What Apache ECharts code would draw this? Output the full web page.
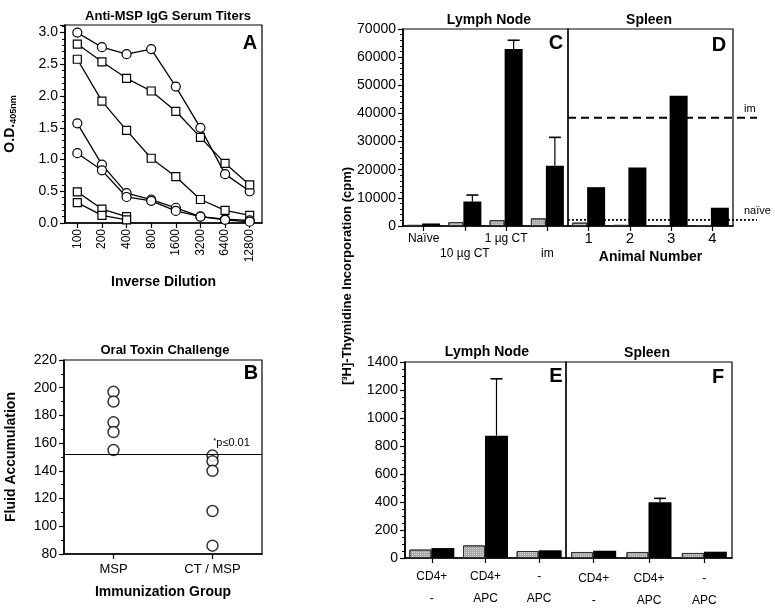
<!DOCTYPE html>
<html>
<head>
<meta charset="utf-8">
<script src="https://cdn.jsdelivr.net/npm/echarts@6/dist/echarts.min.js"></script>
<style>
html, body { margin: 0; padding: 0; background: #fff; }
#chart { width: 775px; height: 608px; }
</style>
</head>
<body>
<div id="chart"></div>
<script>
// A: anti-MSP IgG serum titers
const dilutions = ['100', '200', '400', '800', '1600', '3200', '6400', '12800']
const odCircle1 = [3.0, 2.77, 2.66, 2.74, 2.15, 1.5, 0.77, 0.5]
const odSquare1 = [2.82, 2.54, 2.28, 2.08, 1.76, 1.35, 0.94, 0.6]
const odSquare2 = [2.58, 1.92, 1.46, 1.02, 0.73, 0.37, 0.2, 0.12]
const odCircle2 = [1.57, 0.92, 0.47, 0.37, 0.24, 0.1, 0.06, 0.04]
const odCircle3 = [1.1, 0.83, 0.41, 0.35, 0.19, 0.1, 0.05, 0.02]
const odSquare3 = [0.49, 0.22, 0.1]
const odSquare4 = [0.32, 0.12, 0.05]

// B: oral toxin challenge
const groupsB = ['MSP', 'CT / MSP']
const fluidMSP = [197, 190, 175, 168, 155]
const fluidCTMSP = [151, 147, 140, 111, 86]
const pLine = 152

// C / D: thymidine incorporation (cpm)
const groupsC = ['Naïve', '10 µg CT', '1 µg CT', 'im']
const greyC = [400, 1400, 2100, 2700]
const blackC = [900, 8700, 62900, 21400]
const errC = [null, 11000, 66000, 31500]
const animalsD = ['1', '2', '3', '4']
const greyD = [1200, 400, 300, 250]
const blackD = [13800, 20800, 46300, 6500]
const refD = [38500, 2200]
const refLabelsD = ['im', 'naïve']

// E / F
const groupsEF = ['CD4+\n-', 'CD4+\nAPC', '-\nAPC']
const greyE = [60, 90, 50]
const blackE = [71, 874, 55]
const errE = [null, 1280, null]
const greyF = [43, 43, 36]
const blackF = [52, 398, 45]
const errF = [null, 426, null]

const FONT = 'Liberation Sans, Arial, Helvetica, sans-serif'
const GREY_W = 15, BLACK_W = 18
const GREY_W2 = 22, BLACK_W2 = 23

const chart = echarts.init(document.getElementById('chart'))

function grid (left, top, width, height) {
  return { left, top, width, height, show: true, borderColor: '#000', borderWidth: 1.2,
    backgroundColor: 'transparent', outerBoundsMode: 'none', containLabel: false }
}

const axisLine = { show: true, lineStyle: { color: '#000', width: 1.6 } }
const txt = (size, weight) => ({ color: '#000', fontFamily: FONT, fontSize: size, fontWeight: weight || 'normal' })

function catAxis (gi, data, extra) {
  return Object.assign({
    type: 'category', gridIndex: gi, data, boundaryGap: true,
    axisLine, axisTick: { show: true, alignWithLabel: true, interval: 0, length: 5, lineStyle: { color: '#000', width: 1.2 } },
    axisLabel: Object.assign({ margin: 6, interval: 0 }, txt(12)),
    splitLine: { show: false }
  }, extra || {})
}

function valAxis (gi, min, max, interval, extra) {
  return Object.assign({
    type: 'value', gridIndex: gi, min, max, interval,
    axisLine, axisTick: { show: true, length: 5, lineStyle: { color: '#000', width: 1.2 } },
    minorTick: { show: true, splitNumber: 5, length: 3, lineStyle: { color: '#000', width: 1 } },
    axisLabel: Object.assign({ margin: 7, formatter: v => String(v) }, txt(14)),
    splitLine: { show: false }
  }, extra || {})
}

function lineSeries (data, symbol) {
  return {
    type: 'line', xAxisIndex: 0, yAxisIndex: 0, data,
    symbol, symbolSize: symbol === 'circle' ? 9 : 8,
    itemStyle: { color: '#fff', borderColor: '#000', borderWidth: 1.2 },
    lineStyle: { color: '#000', width: 1.3 },
    z: 3
  }
}

function barPair (ai, grey, black, gw, bw) {
  return [
    { type: 'bar', xAxisIndex: ai, yAxisIndex: ai, data: grey, barWidth: gw, barGap: '0%',
      itemStyle: { color: '#a9a9a9', borderColor: '#333', borderWidth: 1,
        decal: { symbol: 'rect', symbolSize: 1, color: 'rgba(255,255,255,0.45)', dashArrayX: [1, 1], dashArrayY: [1, 1] } } },
    { type: 'bar', xAxisIndex: ai, yAxisIndex: ai, data: black, barWidth: bw, barGap: '0%',
      itemStyle: { color: '#000' } }
  ]
}

function errorBars (ai, errs, black, offset) {
  const data = []
  errs.forEach((e, i) => { if (e != null) data.push([i, e, black[i]]) })
  return {
    type: 'custom', xAxisIndex: ai, yAxisIndex: ai, data, z: 5,
    renderItem: (params, api) => {
      const top = api.coord([api.value(0), api.value(1)])
      const base = api.coord([api.value(0), api.value(2)])
      const x = top[0] + offset
      return { type: 'group', children: [
        { type: 'line', shape: { x1: x, y1: base[1], x2: x, y2: top[1] }, style: { stroke: '#000', lineWidth: 1.2 } },
        { type: 'line', shape: { x1: x - 6, y1: top[1], x2: x + 6, y2: top[1] }, style: { stroke: '#000', lineWidth: 1.6 } }
      ] }
    }
  }
}

const refLines = {
  type: 'custom', xAxisIndex: 3, yAxisIndex: 3, clip: false, z: 4,
  data: refD.map((v, i) => [0, v, i]),
  renderItem: (params, api) => {
    const cs = params.coordSys
    const y = api.coord([0, api.value(1)])[1]
    const i = api.value(2)
    const x2 = cs.x + cs.width + 24
    return { type: 'group', children: [
      { type: 'line', shape: { x1: cs.x, y1: y, x2, y2: y },
        style: { stroke: '#000', lineWidth: i === 0 ? 2 : 1.8, lineDash: i === 0 ? [8, 5] : [2, 2] } },
      { type: 'text', x: x2 - 13, y: y - 3,
        style: { text: refLabelsD[i], font: '11px ' + FONT, fill: '#000', textAlign: 'left', textVerticalAlign: 'bottom' } }
    ] }
  }
}

function label (text, x, y, font, rotation) {
  return { type: 'text', x, y, rotation: rotation || 0,
    style: { text, font, fill: '#000', textAlign: 'center', textVerticalAlign: 'middle' } }
}

const option = {
  animation: false,
  backgroundColor: '#fff',
  textStyle: { fontFamily: FONT },
  grid: [
    grid(65, 25, 197, 198), // A
    grid(64, 360, 198, 194), // B
    grid(403, 29, 165, 197), // C
    grid(568, 29, 165, 197), // D
    grid(405, 362, 161, 196), // E
    grid(566, 362, 166, 196) // F
  ],
  xAxis: [
    catAxis(0, dilutions, {
      axisLabel: Object.assign({ rotate: 90, margin: 6, interval: 0 }, txt(12)),
      name: 'Inverse Dilution', nameLocation: 'middle', nameGap: 52, nameTextStyle: txt(14, 'bold')
    }),
    catAxis(1, groupsB, {
      axisLabel: Object.assign({ margin: 9, interval: 0 }, txt(13)),
      name: 'Immunization Group', nameLocation: 'middle', nameGap: 31, nameTextStyle: txt(14, 'bold')
    }),
    catAxis(2, groupsC, {
      axisLabel: Object.assign({ margin: 5, interval: 0, lineHeight: 15, hideOverlap: false,
        formatter: (v, i) => i % 2 ? '\n' + v : v }, txt(12))
    }),
    catAxis(3, animalsD, {
      axisLabel: Object.assign({ margin: 5, interval: 0 }, txt(15)),
      name: 'Animal Number', nameLocation: 'middle', nameGap: 24, nameTextStyle: txt(14, 'bold')
    }),
    catAxis(4, groupsEF, { axisLabel: Object.assign({ margin: 8, interval: 0, lineHeight: 22 }, txt(12)) }),
    catAxis(5, groupsEF, { axisLabel: Object.assign({ margin: 10, interval: 0, lineHeight: 22 }, txt(12)) })
  ],
  yAxis: [
    valAxis(0, 0, 3.12, 0.5, {
      axisLabel: Object.assign({ margin: 7, showMaxLabel: false, formatter: v => v.toFixed(1) }, txt(14)),
      name: 'O.D.{sub|405nm}', nameLocation: 'middle', nameGap: 47,
      nameTextStyle: Object.assign({ rich: { sub: { fontSize: 9, fontWeight: 'bold', verticalAlign: 'bottom', padding: [6, 0, 0, 0] } } }, txt(14, 'bold'))
    }),
    valAxis(1, 80, 220, 20, {
      minorTick: { show: true, splitNumber: 2, length: 3, lineStyle: { color: '#000' } },
      name: 'Fluid Accumulation', nameLocation: 'middle', nameGap: 46, nameTextStyle: txt(14, 'bold')
    }),
    valAxis(2, 0, 70000, 10000),
    valAxis(3, 0, 70000, 10000, { show: false }),
    valAxis(4, 0, 1400, 200, { minorTick: { show: true, splitNumber: 4, length: 3, lineStyle: { color: '#000' } } }),
    valAxis(5, 0, 1400, 200, { show: false })
  ],
  graphic: [
    label('Anti-MSP IgG Serum Titers', 168, 16, 'bold 13px ' + FONT),
    label('Oral Toxin Challenge', 165, 350, 'bold 13px ' + FONT),
    label('Lymph Node', 489, 20, 'bold 14px ' + FONT),
    label('Spleen', 649, 20, 'bold 14px ' + FONT),
    label('Lymph Node', 487, 352, 'bold 14px ' + FONT),
    label('Spleen', 647, 353, 'bold 14px ' + FONT),
    label('[³H]-Thymidine Incorporation (cpm)', 347, 276, 'bold 13px ' + FONT, Math.PI / 2),
    label('A', 250, 43, 'bold 20px ' + FONT),
    label('B', 251, 373, 'bold 20px ' + FONT),
    label('C', 556, 43, 'bold 20px ' + FONT),
    label('D', 719, 45, 'bold 20px ' + FONT),
    label('E', 556, 376, 'bold 20px ' + FONT),
    label('F', 718, 377, 'bold 20px ' + FONT)
  ],
  series: [
    lineSeries(odCircle1, 'circle'),
    lineSeries(odSquare1, 'rect'),
    lineSeries(odSquare2, 'rect'),
    lineSeries(odCircle2, 'circle'),
    lineSeries(odCircle3, 'circle'),
    lineSeries(odSquare3, 'rect'),
    lineSeries(odSquare4, 'rect'),
    {
      type: 'scatter', xAxisIndex: 1, yAxisIndex: 1,
      data: fluidMSP.map(v => [groupsB[0], v]).concat(fluidCTMSP.map(v => [groupsB[1], v])),
      symbol: 'circle', symbolSize: 11,
      itemStyle: { color: '#fff', borderColor: '#000', borderWidth: 1.5 },
      z: 4,
      markLine: {
        silent: true, symbol: 'none', label: { show: false },
        lineStyle: { color: '#000', width: 1, type: 'solid' },
        data: [{ yAxis: pLine }]
      },
      markPoint: {
        symbol: 'rect', symbolSize: 1, itemStyle: { color: 'transparent' },
        label: { show: true, formatter: '{s|*}p≤0.01', offset: [19, -11], color: '#000', fontFamily: FONT, fontSize: 11,
          rich: { s: { fontSize: 8, verticalAlign: 'top', padding: [0, 0, 4, 0] } } },
        data: [{ coord: [groupsB[1], pLine] }]
      }
    },
    ...barPair(2, greyC, blackC, GREY_W, BLACK_W),
    errorBars(2, errC, blackC, GREY_W / 2),
    ...barPair(3, greyD, blackD, GREY_W, BLACK_W),
    refLines,
    ...barPair(4, greyE, blackE, GREY_W2, BLACK_W2),
    errorBars(4, errE, blackE, GREY_W2 / 2),
    ...barPair(5, greyF, blackF, GREY_W2, BLACK_W2),
    errorBars(5, errF, blackF, GREY_W2 / 2)
  ]
}

chart.setOption(option)
</script>
</body>
</html>
